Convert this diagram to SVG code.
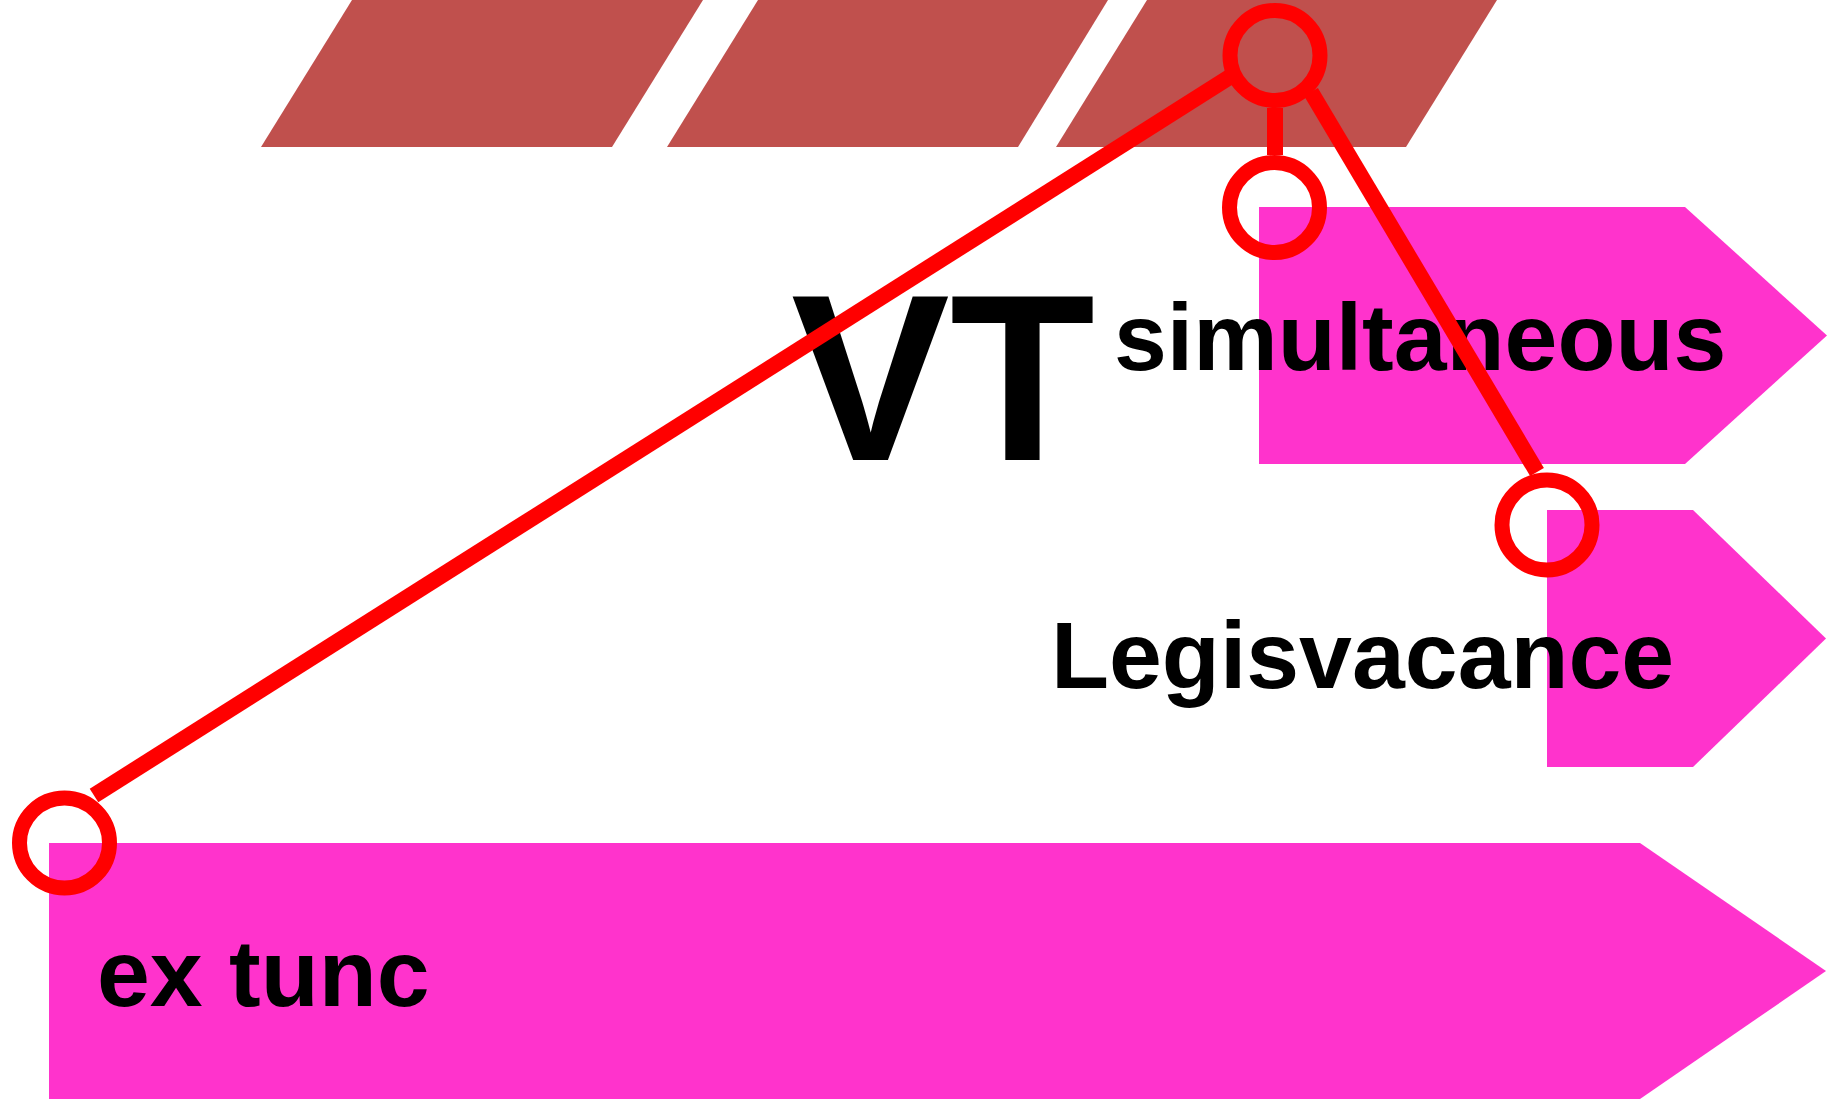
<svg xmlns="http://www.w3.org/2000/svg" width="1832" height="1099" viewBox="0 0 1832 1099">
<style>
.band{fill:#C0504D;stroke:none}
.tag{fill:#FF33CC;stroke:none}
.lbl{font-family:"Liberation Sans",Arial,Helvetica,sans-serif;font-weight:bold;fill:#000000}
.conn{stroke:#FF0000;stroke-width:16;fill:none;stroke-linecap:butt}
.end{stroke:#FF0000;stroke-width:15;fill:none}
</style>
<rect x="0" y="0" width="1832" height="1099" fill="#FFFFFF"/>
<g id="band1"><polygon class="band" points="352,0 703,0 612,147 261,147"/></g>
<g id="band2"><polygon class="band" points="758,0 1108,0 1018,147 667,147"/></g>
<g id="band3"><polygon class="band" points="1147,0 1497,0 1406,147 1056,147"/></g>
<g id="simultaneous">
<polygon class="tag" points="1259,207 1685,207 1827,335.5 1685,464 1259,464"/>
<text class="lbl" x="1114" y="370" font-size="95">simultaneous</text>
</g>
<g id="legisvacance">
<polygon class="tag" points="1547,510 1693,510 1826,638.5 1693,767 1547,767"/>
<text class="lbl" x="1051" y="688" font-size="95">Legisvacance</text>
</g>
<g id="extunc">
<polygon class="tag" points="49,843 1640,843 1826,971 1640,1099 49,1099"/>
<text class="lbl" x="97" y="1006" font-size="95">ex tunc</text>
</g>
<g id="vt">
<text class="lbl" x="791" y="460" font-size="238">VT</text>
</g>
<g id="connectors">
<line class="conn" x1="1275" y1="108" x2="1275" y2="155"/>
<line class="conn" x1="94" y1="795.5" x2="1236" y2="73"/>
<line class="conn" x1="1311" y1="92" x2="1537" y2="472"/>
<circle class="end" cx="1275" cy="55.5" r="45"/>
<circle class="end" cx="1274.5" cy="207.5" r="45"/>
<circle class="end" cx="1547" cy="525" r="45"/>
<circle class="end" cx="64.5" cy="843" r="45"/>
</g>
</svg>
